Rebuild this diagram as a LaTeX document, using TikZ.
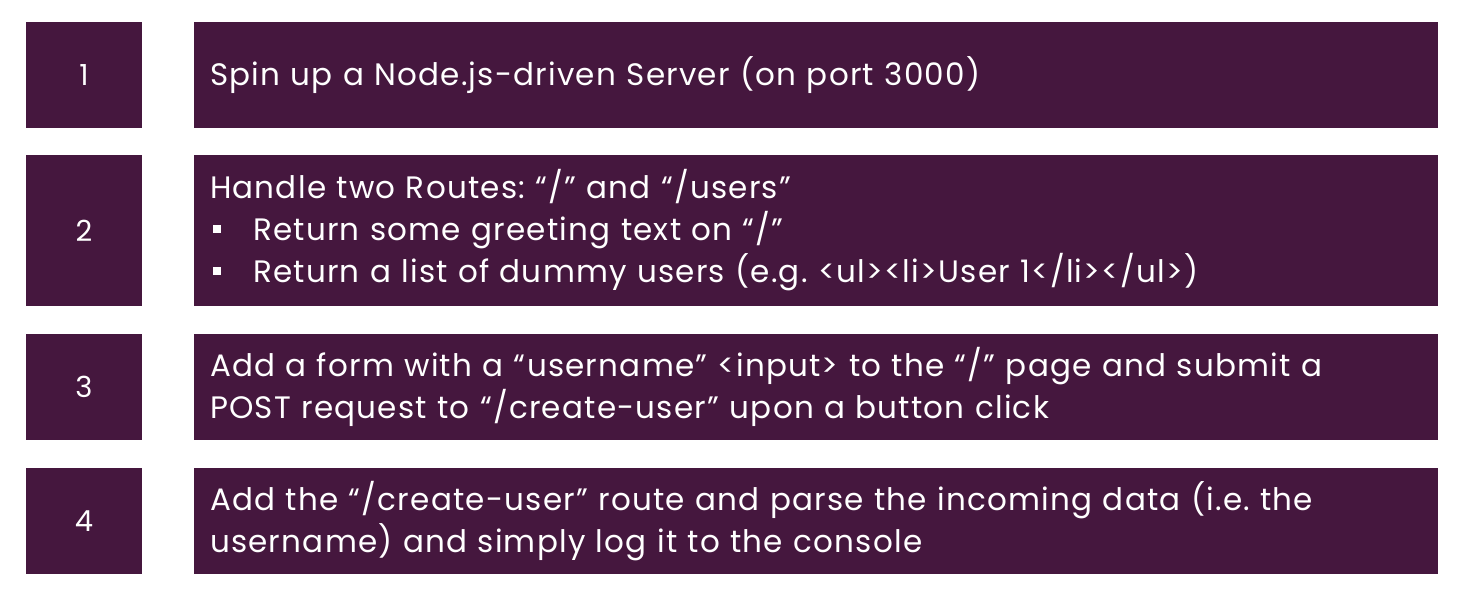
\documentclass[tikz,border=0pt]{standalone}
\usepackage{fontspec}
\setmainfont{Poppins}[LetterSpace=4]
\frenchspacing
\usetikzlibrary{positioning}
\definecolor{taskplum}{RGB}{69,23,62}

\tikzset{
  numbox/.style={fill=taskplum, minimum width=116pt, minimum height=#1,
    text=white, font=\fontsize{29}{38}\selectfont, inner sep=0pt},
  taskbox/.style={fill=taskplum, minimum width=1244pt, minimum height=#1,
    text width=1212pt, inner xsep=16pt, align=left, text=white,
    font=\fontsize{31}{42}\selectfont},
}
\newcommand{\taskbullet}{\hspace{3pt}\raisebox{0.27em}{\rule{8pt}{8pt}}\hspace{32pt}}

\begin{document}
\begin{tikzpicture}[x=1pt, y=-1pt]
\useasboundingbox (0,0) rectangle (1464,593);
\node[numbox=106pt] (n1) at (84,75) {1};
\node[taskbox=106pt] (t1) at (816,75) {Spin up a Node.js-driven Server (on port 3000)};
\node[numbox=151pt] (n2) at (84,230.5) {2};
\node[taskbox=151pt] (t2) at (816,230.5) {Handle two Routes: “/” and “/users”\\
  \taskbullet Return some greeting text on “/”\\
  \taskbullet Return a list of dummy users (e.g. <ul><li>User 1</li></ul>)};
\node[numbox=106pt] (n3) at (84,387) {3};
\node[taskbox=106pt] (t3) at (816,387) {Add a form with a “username” <input> to the “/” page and submit a\\
  POST request to “/create-user” upon a button click};
\node[numbox=106pt] (n4) at (84,521) {4};
\node[taskbox=106pt] (t4) at (816,521) {Add the “/create-user” route and parse the incoming data (i.e. the\\
  username) and simply log it to the console};
\end{tikzpicture}
\end{document}
